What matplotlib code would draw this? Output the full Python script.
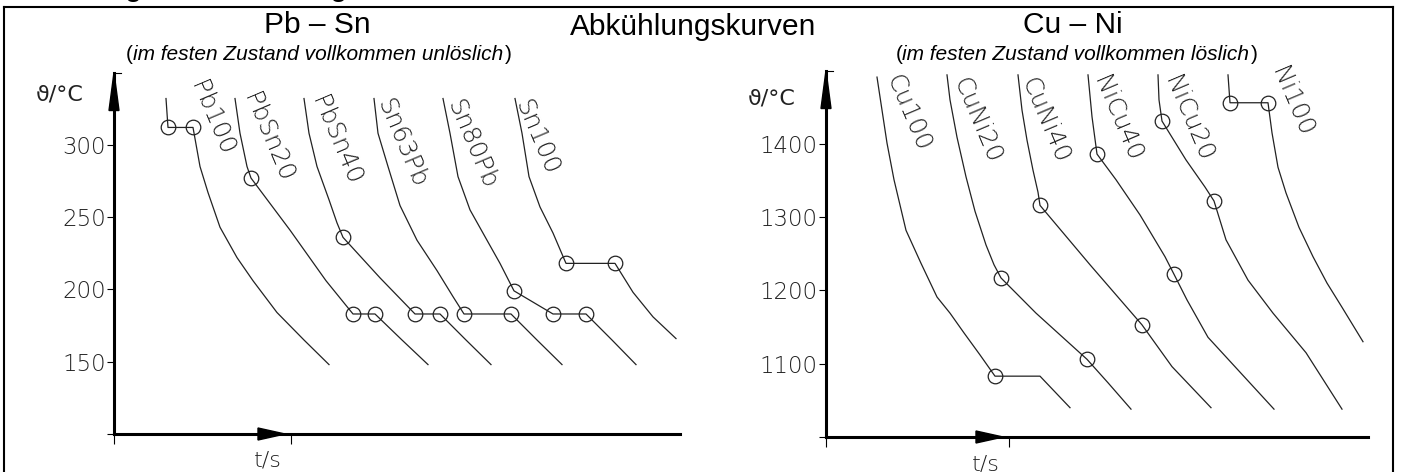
import matplotlib
matplotlib.use("Agg")
import matplotlib.pyplot as plt
from matplotlib.lines import Line2D

# ABKUEHLUNGSKURVEN - WERTE (t IN s, THETA IN °C)

# LINKS: Pb - Sn
pbsn_namen = ["Pb100", "PbSn20", "PbSn40", "Sn63Pb", "Sn80Pb", "Sn100"]
pb100_t = [5.2, 5.4, 7.9, 8.6, 9.4, 10.6, 12.3, 13.9, 16.3, 19.0, 21.5]
pb100_T = [332, 312, 312, 285, 267, 243, 222, 206, 184, 165, 148]
pbsn20_t = [12.1, 12.6, 13.3, 13.7, 17.6, 21.2, 23.9, 26.1, 28.8, 31.4]
pbsn20_T = [332, 308, 285, 277, 241, 206, 183, 183, 165, 148]
pbsn40_t = [19.0, 19.5, 20.3, 21.5, 22.3, 22.9, 26.6, 30.1, 32.6, 35.2, 37.7]
pbsn40_T = [332, 308, 285, 262, 246, 236, 208, 183, 183, 165, 148]
sn63pb_t = [26.0, 26.4, 27.4, 28.6, 30.3, 32.3, 33.9, 35.0, 39.7, 42.3, 44.8]
sn63pb_T = [332, 308, 285, 258, 234, 213, 195, 183, 183, 165, 148]
sn80pb_t = [32.9, 33.6, 34.4, 35.6, 37.3, 38.6, 40.0, 43.9, 47.2, 49.8, 52.2]
sn80pb_T = [332, 308, 278, 255, 234, 218, 199, 183, 183, 165, 148]
sn100_t = [40.1, 40.8, 41.5, 42.6, 43.9, 45.2, 50.1, 51.9, 53.9, 56.2]
sn100_T = [332, 308, 278, 257, 239, 218, 218, 198, 181, 166]
# HALTEPUNKTE (KREISE)
pbsn_halt_t = [5.4, 7.9, 13.7, 23.9, 26.1, 22.9, 30.1, 32.6, 35.0, 39.7, 40.0, 43.9, 47.2, 45.2, 50.1]
pbsn_halt_T = [312, 312, 277, 183, 183, 236, 183, 183, 183, 183, 199, 183, 183, 218, 218]
pbsn_ticks = [150, 200, 250, 300]

# RECHTS: Cu - Ni
cuni_namen = ["Cu100", "CuNi20", "CuNi40", "NiCu40", "NiCu20", "Ni100"]
cu100_t = [5.1, 6.1, 6.8, 8.0, 9.5, 11.1, 12.4, 13.8, 15.4, 16.9, 21.4, 24.4]
cu100_T = [1491, 1401, 1351, 1282, 1237, 1191, 1169, 1142, 1112, 1083, 1083, 1040]
cuni20_t = [12.1, 12.4, 13.1, 14.0, 14.9, 16.0, 16.8, 17.5, 21.0, 26.1, 28.2, 30.5]
cuni20_T = [1494, 1460, 1409, 1355, 1308, 1262, 1235, 1217, 1169, 1106, 1074, 1038]
cuni40_t = [19.2, 19.6, 20.1, 20.7, 21.2, 21.4, 26.4, 31.6, 34.6, 38.5]
cuni40_T = [1494, 1446, 1405, 1364, 1334, 1316, 1235, 1153, 1096, 1040]
nicu40_t = [26.2, 26.6, 27.1, 29.0, 31.4, 33.9, 34.8, 36.1, 38.2, 41.5, 44.8]
nicu40_T = [1494, 1437, 1386, 1351, 1303, 1246, 1222, 1187, 1136, 1087, 1038]
nicu20_t = [33.2, 33.3, 33.6, 36.0, 37.9, 38.8, 40.0, 42.2, 44.7, 48.0, 51.6]
nicu20_T = [1494, 1460, 1431, 1378, 1341, 1322, 1269, 1214, 1169, 1115, 1038]
ni100_t = [40.2, 40.4, 44.2, 44.6, 45.2, 46.0, 47.3, 48.7, 50.1, 51.6, 53.7]
ni100_T = [1494, 1456, 1456, 1415, 1368, 1333, 1286, 1246, 1210, 1177, 1130]
cuni_halt_t = [16.9, 17.5, 26.1, 21.4, 31.6, 27.1, 34.8, 33.6, 38.8, 40.4, 44.2]
cuni_halt_T = [1083, 1217, 1106, 1316, 1153, 1386, 1222, 1431, 1322, 1456, 1456]
cuni_ticks = [1100, 1200, 1300, 1400]

# FIGUR (PIXEL-RASTER 1401 x 472)
W, H = 1401.0, 472.0
fig = plt.figure(figsize=(W / 100, H / 100), dpi=100)

cad = dict(family="DejaVu Sans", fontweight="light", color="#222222")
arial = "Liberation Sans"
farbe = "#222222"


def achse(x0, y0, breite, hoehe, T0, px_pro_K):
    ax = fig.add_axes([x0 / W, 1 - y0 / H, breite / W, hoehe / H])
    ax.set_xlim(0, breite / 10)
    ax.set_ylim(T0, T0 + hoehe / px_pro_K)
    ax.patch.set_visible(False)
    return ax


def diagramm(ax, kurven, namen, halt_t, halt_T, ticks, T0, T_top, t_tick,
             t_ende, px_pro_K, label_pos):
    # ACHSEN
    for s in ["top", "right"]:
        ax.spines[s].set_visible(False)
    for s in ["left", "bottom"]:
        ax.spines[s].set_linewidth(2.2)
        ax.spines[s].set_color("black")
    ax.spines["left"].set_bounds(T0, T_top)
    ax.spines["bottom"].set_bounds(0, t_ende)
    ax.set_yticks([T0] + ticks)
    ax.set_yticklabels([""] + [str(v) for v in ticks], **cad, fontsize=16.5)
    ax.set_xticks([0, t_tick])
    ax.set_xticklabels(["", ""])
    ax.tick_params(axis="y", direction="out", length=5, width=0.8, pad=1)
    ax.tick_params(axis="x", direction="out", length=7, width=0.8)
    ax.plot([0, 0.7], [T_top, T_top], color="black", lw=0.8, clip_on=False)

    # PFEILE
    kpx = 1 / px_pro_K
    ax.fill([-0.5, 0.5, 0], [T_top - 38 * kpx, T_top - 38 * kpx, T_top],
            color="black", clip_on=False, zorder=5)
    ax.fill([t_tick - 3.3, t_tick - 3.3, t_tick - 0.6],
            [T0 - 6 * kpx, T0 + 6 * kpx, T0], color="black", clip_on=False, zorder=5)

    # KURVEN
    for (t, T) in kurven:
        ax.plot(t, T, color=farbe, lw=0.9, clip_on=False)
    ax.plot(halt_t, halt_T, "o", ms=10.5, mfc="none", mec=farbe, mew=0.9,
            clip_on=False)

    # BESCHRIFTUNG DER KURVEN
    for name, (lt, lT) in zip(namen, label_pos):
        ax.text(lt, lT, name, rotation=-67, rotation_mode="anchor",
                ha="center", va="center", fontsize=18, **cad)

    # ACHSENTITEL (THETA NICHT IN DER LIGHT-SCHRIFT VORHANDEN)
    ax.text(-5.4, T0 + 339 * kpx, "ϑ/°C", ha="center", va="center",
            fontsize=16, family=["DejaVu Sans"], color="#222222")
    ax.text(t_tick - 2.3, T0 - 27 * kpx, "t/s", ha="center", va="center",
            fontsize=16, **cad, clip_on=False)


axL = achse(114, 434, 580, 374, 100, 72.3 / 50)
diagramm(axL,
         [(pb100_t, pb100_T), (pbsn20_t, pbsn20_T), (pbsn40_t, pbsn40_T),
          (sn63pb_t, sn63pb_T), (sn80pb_t, sn80pb_T), (sn100_t, sn100_T)],
         pbsn_namen, pbsn_halt_t, pbsn_halt_T, pbsn_ticks, 100, 350, 17.7, 56.6,
         72.3 / 50,
         [(9.8, 318), (15.4, 305), (22.2, 303), (28.8, 301), (35.8, 300), (42.3, 305)])

axR = achse(826, 437, 560, 377, 1000, 73.3 / 100)
diagramm(axR,
         [(cu100_t, cu100_T), (cuni20_t, cuni20_T), (cuni40_t, cuni40_T),
          (nicu40_t, nicu40_T), (nicu20_t, nicu20_T), (ni100_t, ni100_T)],
         cuni_namen, cuni_halt_t, cuni_halt_T, cuni_ticks, 1000, 1500, 18.3, 54.2,
         73.3 / 100,
         [(8.2, 1441), (15.1, 1431), (21.9, 1431), (29.1, 1434), (36.2, 1434), (46.6, 1457)])

# RAHMEN
for xs, ys in [([4, 1393], [7, 7]), ([4, 4], [7, 480]), ([1393, 1393], [7, 480])]:
    fig.add_artist(Line2D([x / W for x in xs], [1 - y / H for y in ys],
                          color="black", lw=1.5))

# UEBERSCHRIFT (IM ORIGINAL OBEN ABGESCHNITTEN, NUR UNTERLAENGEN SICHTBAR)
fig.text(3 / W, 1 - 2 / H, "Erstarrung und Abkühlung", family=arial,
         fontweight="bold", fontsize=19.5, va="bottom")

# TITEL
fig.text(317 / W, 1 - 25 / H, "Pb – Sn", family=arial, fontsize=21.5,
         ha="center", va="center")
fig.text(693 / W, 1 - 27 / H, "Abkühlungskurven", family=arial, fontsize=21.5,
         ha="center", va="center")
fig.text(1073 / W, 1 - 25 / H, "Cu – Ni", family=arial, fontsize=21.5,
         ha="center", va="center")

# UNTERTITEL: KURSIV MIT GERADEN KLAMMERN
renderer = fig.canvas.get_renderer()
for xm, txt in [(318, "im festen Zustand vollkommen unlöslich"),
                (1076, "im festen Zustand vollkommen löslich")]:
    t = fig.text(xm / W, 1 - 55 / H, txt, family=arial, style="italic",
                 fontsize=15, ha="center", va="center")
    bb = t.get_window_extent(renderer)
    fig.text(bb.x0 / W, 1 - 55 / H, "(", family=arial, fontsize=15,
             ha="right", va="center")
    fig.text(bb.x1 / W + 0.001, 1 - 55 / H, ")", family=arial, fontsize=15,
             ha="left", va="center")

fig.savefig("out.png", dpi=100)
